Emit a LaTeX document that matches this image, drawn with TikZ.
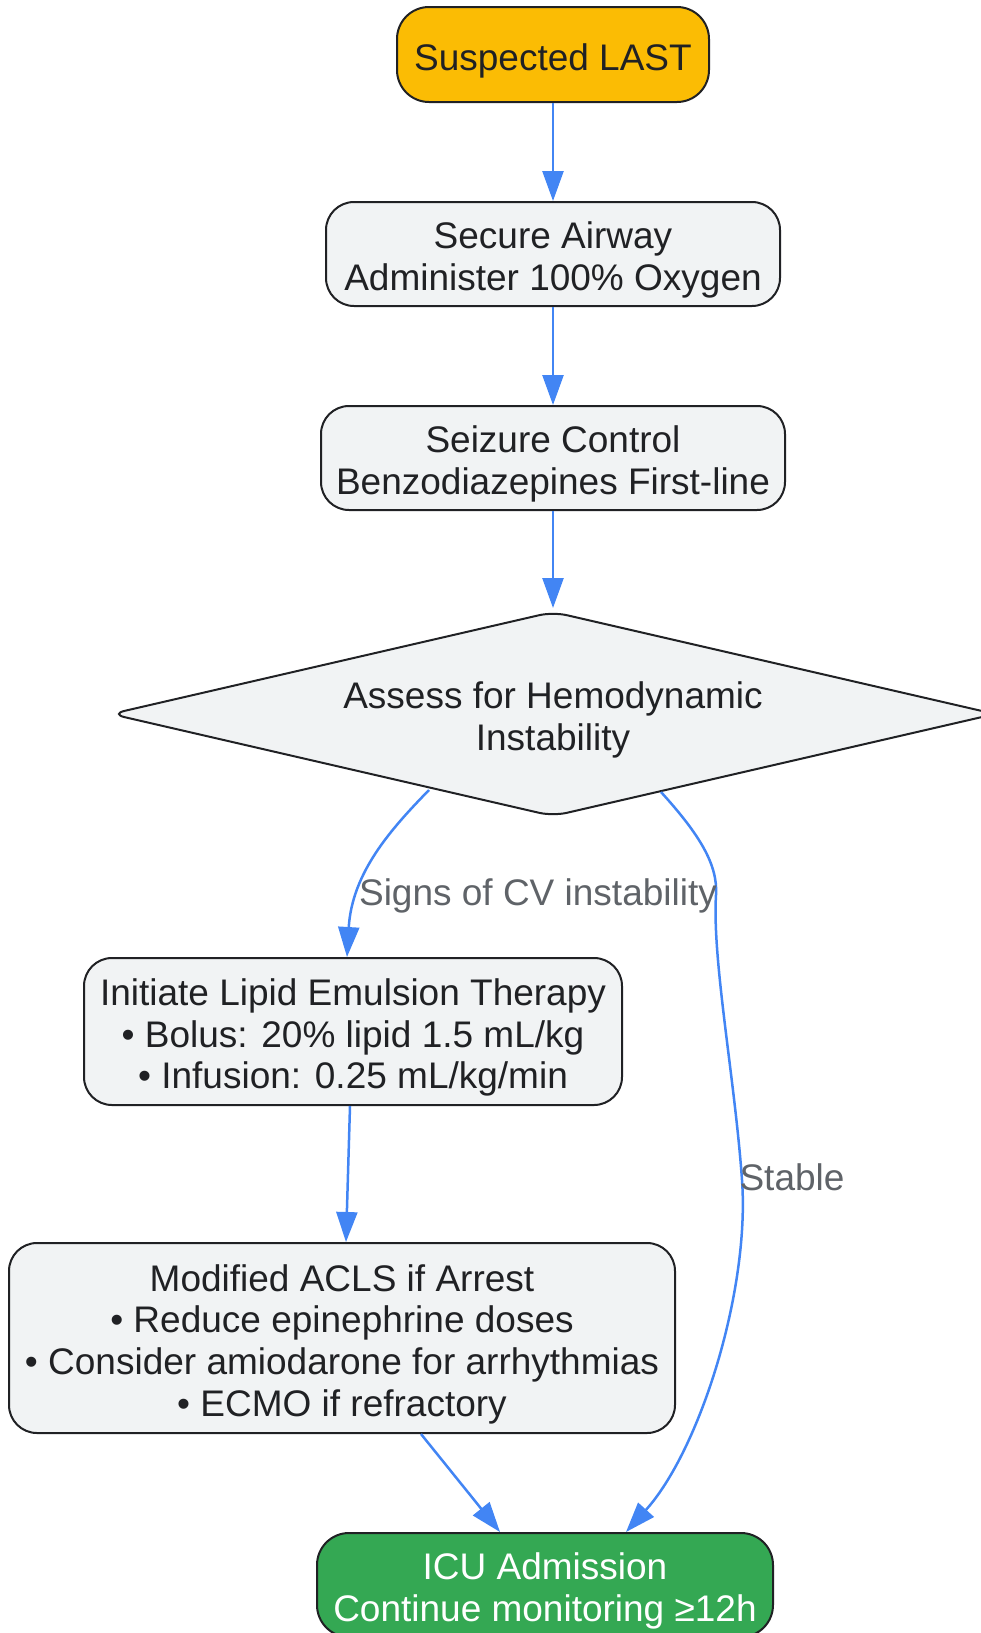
\documentclass[tikz,border=0pt]{standalone}
\usepackage{fontspec}
\setmainfont{Liberation Sans}
\usetikzlibrary{arrows.meta,shapes.geometric,calc,backgrounds}
\definecolor{edgeblue}{HTML}{4285F4}
\definecolor{boxgray}{HTML}{F1F3F4}
\definecolor{startyellow}{HTML}{FBBC04}
\definecolor{endgreen}{HTML}{34A853}
\definecolor{inkdark}{HTML}{202124}
\definecolor{labelgray}{HTML}{5F6368}
\newcommand\mystrut{\rule{0pt}{39pt}}
\begin{document}
\begin{tikzpicture}[x=1pt,y=-1pt,
  every node/.style={font=\fontsize{37}{41.7}\selectfont},
  box/.style={draw=inkdark, line width=2pt, rounded corners=28pt, fill=boxgray, text=inkdark, align=center, inner sep=0pt},
  flow/.style={draw=edgeblue, line width=2.5pt, -{Triangle[length=30pt,width=21pt]}},
  elabel/.style={text=labelgray, inner sep=0pt, anchor=base},
  decision/.style={draw=inkdark, line width=2pt, fill=boxgray, rounded corners=14pt}]
\useasboundingbox (0,0) rectangle (981,1633);

\node[box, fill=startyellow, minimum width=312pt, minimum height=95pt, rounded corners=32pt] (start) at (553,54.5) {\mystrut Suspected LAST};
\node[box, minimum width=454pt, minimum height=104pt] (airway) at (553,254) {\mystrut Secure Airway\\Administer 100\% Oxygen};
\node[box, minimum width=464pt, minimum height=104pt] (seizure) at (553,458) {\mystrut Seizure Control\\Benzodiazepines First-line};
\node[diamond, draw=none, text=inkdark, align=center, inner sep=0pt, aspect=4.33, minimum width=884pt, minimum height=204pt] (assess) at (553,714) {\mystrut Assess for Hemodynamic\\Instability};
\begin{scope}[on background layer]
\draw[decision] ($(assess.center)+(-442,0)$) -- ($(assess.center)+(0,-102)$) -- ($(assess.center)+(442,0)$) -- ($(assess.center)+(0,102)$) -- cycle;
\end{scope}
\node[box, minimum width=538pt, minimum height=147pt] (lipid) at (353,1031.5) {\mystrut Initiate Lipid Emulsion Therapy\\• Bolus: 20\% lipid 1.5 mL/kg\\• Infusion: 0.25 mL/kg/min};
\node[box, minimum width=666pt, minimum height=190pt] (acls) at (342,1338) {\mystrut Modified ACLS if Arrest\\• Reduce epinephrine doses\\• Consider amiodarone for arrhythmias\\• ECMO if refractory};
\node[box, fill=endgreen, text=white, minimum width=456pt, minimum height=104pt, rounded corners=32pt] (icu) at (545,1585) {\mystrut ICU Admission\\Continue monitoring ≥12h};

\draw[flow] (start.south) -- (airway.north);
\draw[flow] (airway.south) -- (seizure.north);
\draw[flow] (seizure.south) -- ($(assess.center)+(0,-106)$);
\draw[flow] ($(assess.center)+(-124,76)$) .. controls (392,828) and (352,872) .. ([xshift=-6pt]lipid.north);
\draw[flow] ($(assess.center)+(108,78)$) .. controls (700,835) and (718,865) .. (716,895)
   .. controls (712,960) and (735,1080) .. (742,1180)
   .. controls (750,1290) and (700,1450) .. ([xshift=81pt]icu.north);
\draw[flow] ([xshift=-3pt]lipid.south) -- ([xshift=4pt]acls.north);
\draw[flow] ([xshift=79pt]acls.south) -- ([xshift=-45pt]icu.north);

\node[elabel] (lsigns) at (538,905) {Signs of CV instability};
\node[elabel] (lstable) at (792,1190) {Stable};
\end{tikzpicture}
\end{document}
